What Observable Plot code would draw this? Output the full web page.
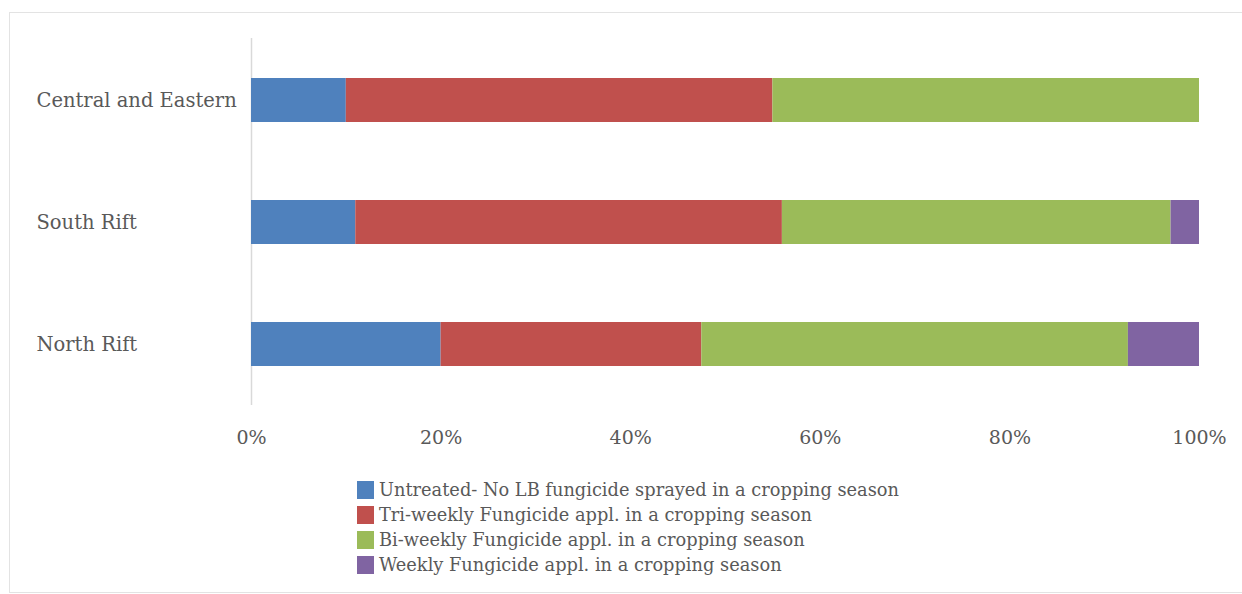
<!DOCTYPE html>
<html>
<head>
<meta charset="utf-8">
<script src="https://cdn.jsdelivr.net/npm/d3@7"></script>
<script src="https://cdn.jsdelivr.net/npm/@observablehq/plot@0.6"></script>
<style>
  html, body { margin: 0; padding: 0; background: #fff; }
  #frame {
    position: absolute; left: 9px; top: 12px; width: 1240px; height: 579px;
    border: 1px solid #e3e3e3; border-right: none; background: #fff;
  }
  #legend { margin-top: 4px; padding-left: 347px; font-family: "DejaVu Serif", serif; font-size: 17.8px; color: #595959; }
  .row { display: flex; align-items: center; height: 25px; }
  .sw { width: 17px; height: 18px; margin-right: 5px; }
</style>
</head>
<body>
<div id="frame"><div id="chart"></div><div id="legend"></div></div>
<script>
// Share of farms by late-blight fungicide regime, per region (percent)
const regions = ["Central and Eastern", "South Rift", "North Rift"];
const series = [
  "Untreated- No LB fungicide sprayed in a cropping season",
  "Tri-weekly Fungicide appl. in a cropping season",
  "Bi-weekly Fungicide appl. in a cropping season",
  "Weekly Fungicide appl. in a cropping season"
];
const untreated = [10, 11, 20];
const triWeekly = [45, 45, 27.5];
const biWeekly = [45, 41, 45];
const weekly = [0, 3, 7.5];
const colors = ["#4F81BD", "#C0504D", "#9BBB59", "#8064A2"];
const xTicks = [0, 20, 40, 60, 80, 100];

const seriesValues = [untreated, triWeekly, biWeekly, weekly];
const rows = [];
series.forEach((s, i) => {
  regions.forEach((r, j) => rows.push({region: r, series: s, value: seriesValues[i][j]}));
});

const chart = Plot.plot({
  width: 1232,
  height: 460,
  marginLeft: 241,
  marginRight: 43,
  marginTop: 25,
  marginBottom: 68,
  style: {fontFamily: "'DejaVu Serif', serif", color: "#595959", background: "transparent"},
  x: {domain: [0, 100], ticks: xTicks, tickFormat: d => d + "%", label: null},
  y: {domain: regions, paddingInner: 0.64, paddingOuter: 0.32, label: null},
  color: {domain: series, range: colors},
  marks: [
    Plot.ruleX([0], {stroke: "#d9d9d9", strokeWidth: 1.5}),
    Plot.barX(rows, {x: "value", y: "region", fill: "series"}),
    Plot.axisX({ticks: xTicks, tickFormat: d => d + "%", tickSize: 0, tickPadding: 25, fontSize: 19, label: null}),
    Plot.axisY({tickSize: 0, textAnchor: "start", dx: -206, fontSize: 19.5, label: null})
  ]
});
document.getElementById("chart").appendChild(chart);

const legend = document.getElementById("legend");
series.forEach((s, i) => {
  const row = document.createElement("div");
  row.className = "row";
  const sw = document.createElement("div");
  sw.className = "sw";
  sw.style.background = colors[i];
  const label = document.createElement("span");
  label.textContent = s;
  row.appendChild(sw);
  row.appendChild(label);
  legend.appendChild(row);
});
</script>
</body>
</html>
